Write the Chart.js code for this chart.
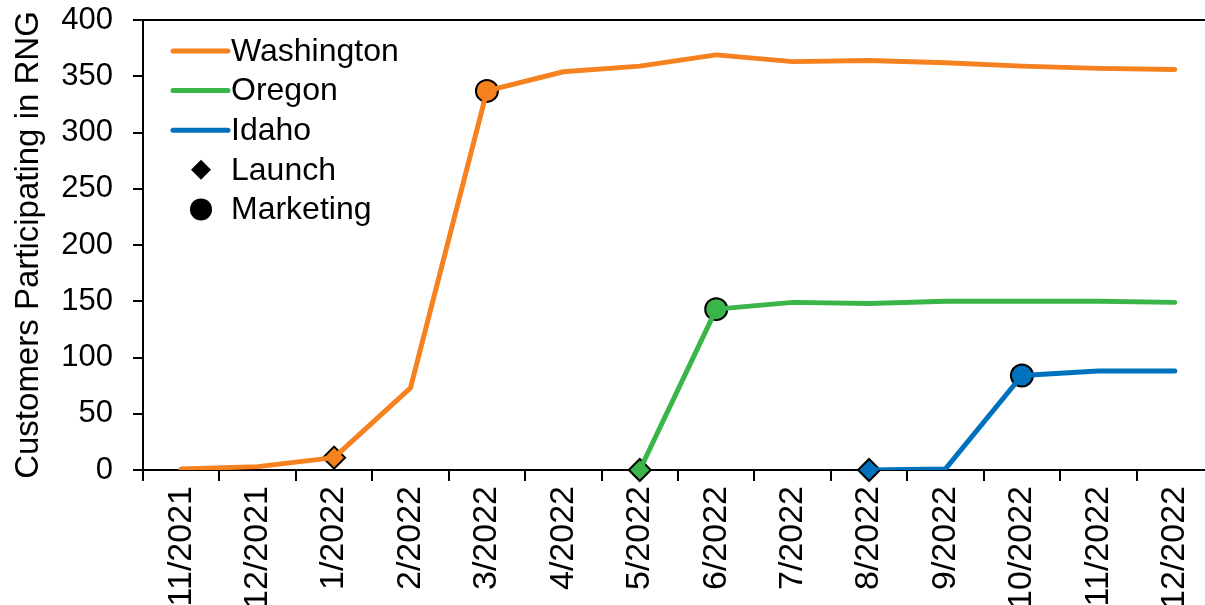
<!DOCTYPE html>
<html>
<head>
<meta charset="utf-8">
<script src="https://cdn.jsdelivr.net/npm/chart.js@4"></script>
<style>
  html, body { margin: 0; padding: 0; background: #fff; overflow: hidden; }
  #wrap { width: 1205px; height: 605px; overflow: hidden; }
  #box { width: 1226px; height: 605px; position: relative; }
</style>
</head>
<body>
<div id="wrap"><div id="box"><canvas id="rngChart"></canvas></div></div>
<script>
const months = ['11/2021', '12/2021', '1/2022', '2/2022', '3/2022', '4/2022', '5/2022',
                '6/2022', '7/2022', '8/2022', '9/2022', '10/2022', '11/2022', '12/2022'];
const washington = [1, 3, 11, 73, 337, 354, 359, 369, 363, 364, 362, 359, 357, 356];
const oregon = [null, null, null, null, null, null, 0, 143, 149, 148, 150, 150, 150, 149];
const idaho = [null, null, null, null, null, null, null, null, null, 0, 1, 84, 88, 88];
const launch = [null, null, 11, null, null, null, 0, null, null, 0, null, null, null, null];
const marketing = [null, null, null, null, 337, null, null, 143, null, null, null, 84, null, null];
const yTicks = [0, 50, 100, 150, 200, 250, 300, 350, 400];

const ORANGE = '#F5821F';
const GREEN = '#3AB54A';
const BLUE = '#0071BC';
const FONT = '"Liberation Sans", Arial, sans-serif';

// marker colour follows the series it sits on
const launchColors = [null, null, ORANGE, null, null, null, GREEN, null, null, BLUE, null, null, null, null];
const marketingColors = [null, null, null, null, ORANGE, null, null, GREEN, null, null, null, BLUE, null, null];

const legendItems = [
    { text: 'Washington', type: 'line', color: ORANGE },
    { text: 'Oregon', type: 'line', color: GREEN },
    { text: 'Idaho', type: 'line', color: BLUE },
    { text: 'Launch', type: 'diamond', color: '#000' },
    { text: 'Marketing', type: 'circle', color: '#000' }
];

function lineSet(label, data, color) {
    return {
        label: label,
        data: data,
        borderColor: color,
        backgroundColor: color,
        borderWidth: 5,
        borderCapStyle: 'round',
        borderJoinStyle: 'round',
        pointRadius: 0,
        tension: 0,
        fill: false
    };
}

const frameLegend = {
    id: 'frameLegend',
    afterDraw(chart) {
        const ctx = chart.ctx;
        const area = chart.chartArea;
        ctx.save();
        // top border of the plot area
        ctx.strokeStyle = '#000';
        ctx.lineWidth = 2;
        ctx.beginPath();
        ctx.moveTo(area.left - 10, area.top);
        ctx.lineTo(area.right, area.top);
        ctx.stroke();

        // legend in the upper-left corner
        ctx.font = '32px ' + FONT;
        ctx.textBaseline = 'middle';
        ctx.textAlign = 'left';
        legendItems.forEach((item, i) => {
            const y = area.top + 31 + i * 39.6;
            const x0 = area.left + 30;
            if (item.type === 'line') {
                ctx.strokeStyle = item.color;
                ctx.lineWidth = 5;
                ctx.lineCap = 'round';
                ctx.beginPath();
                ctx.moveTo(x0, y);
                ctx.lineTo(x0 + 55, y);
                ctx.stroke();
            } else if (item.type === 'diamond') {
                ctx.fillStyle = item.color;
                ctx.beginPath();
                ctx.moveTo(x0 + 28, y - 10);
                ctx.lineTo(x0 + 38, y);
                ctx.lineTo(x0 + 28, y + 10);
                ctx.lineTo(x0 + 18, y);
                ctx.closePath();
                ctx.fill();
            } else {
                ctx.fillStyle = item.color;
                ctx.beginPath();
                ctx.arc(x0 + 28, y, 11, 0, Math.PI * 2);
                ctx.fill();
            }
            ctx.fillStyle = '#000';
            ctx.fillText(item.text, x0 + 58, y + 1);
        });
        ctx.restore();
    }
};

const ctx = document.getElementById('rngChart').getContext('2d');
new Chart(ctx, {
    type: 'line',
    data: {
        labels: months,
        datasets: [
            lineSet('Washington', washington, ORANGE),
            lineSet('Oregon', oregon, GREEN),
            lineSet('Idaho', idaho, BLUE),
            {
                label: 'Launch',
                data: launch,
                showLine: false,
                clip: false,
                pointStyle: 'rectRot',
                pointRadius: 11,
                pointBackgroundColor: launchColors,
                pointBorderColor: '#000',
                pointBorderWidth: 2
            },
            {
                label: 'Marketing',
                data: marketing,
                showLine: false,
                clip: false,
                pointStyle: 'circle',
                pointRadius: 11,
                pointBackgroundColor: marketingColors,
                pointBorderColor: '#000',
                pointBorderWidth: 2
            }
        ]
    },
    options: {
        responsive: true,
        maintainAspectRatio: false,
        animation: false,
        events: [],
        layout: { padding: { top: 20, right: 0, left: 0, bottom: 0 } },
        plugins: {
            legend: { display: false },
            tooltip: { enabled: false }
        },
        scales: {
            x: {
                offset: true,
                grid: {
                    offset: true,
                    drawOnChartArea: false,
                    drawTicks: true,
                    tickLength: 11,
                    color: '#000',
                    lineWidth: 2
                },
                border: { color: '#000', width: 2 },
                ticks: {
                    color: '#000',
                    font: { family: FONT, size: 34 },
                    minRotation: 90,
                    maxRotation: 90,
                    autoSkip: false,
                    padding: 5
                },
                afterFit(scale) {
                    scale.height = 135;
                    scale.paddingLeft = 0;
                    scale.paddingRight = 0;
                }
            },
            y: {
                min: 0,
                max: 400,
                afterBuildTicks(scale) { scale.ticks = yTicks.map(v => ({ value: v })); },
                grid: {
                    drawOnChartArea: false,
                    drawTicks: true,
                    tickLength: 10,
                    color: '#000',
                    lineWidth: 2
                },
                border: { color: '#000', width: 2 },
                ticks: {
                    color: '#000',
                    font: { family: FONT, size: 31 },
                    padding: 20
                },
                title: {
                    display: true,
                    text: 'Customers Participating in RNG',
                    color: '#000',
                    font: { family: FONT, size: 33 },
                    padding: { top: 9, bottom: 0 }
                },
                afterFit(scale) {
                    scale.width = 143;
                    scale.paddingTop = 0;
                    scale.paddingBottom = 0;
                }
            }
        }
    },
    plugins: [frameLegend]
});
</script>
</body>
</html>
